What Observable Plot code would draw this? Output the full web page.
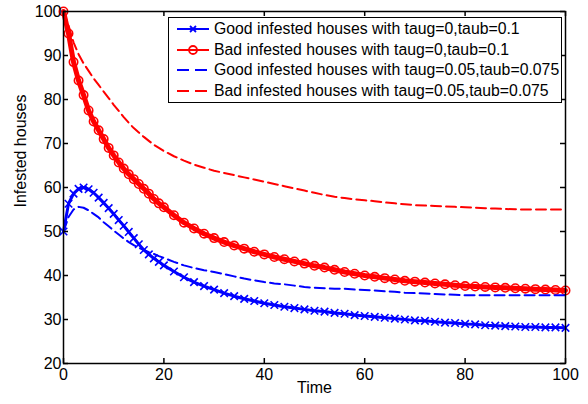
<!DOCTYPE html>
<html>
<head>
<meta charset="utf-8">
<script src="https://cdn.jsdelivr.net/npm/d3@7"></script>
<script src="https://cdn.jsdelivr.net/npm/@observablehq/plot@0.6"></script>
<style>
  body { margin: 0; background: #fff; }
  #wrap { position: relative; width: 588px; height: 404px; font-family: "Liberation Sans", Arial, sans-serif; }
  #legend { position: absolute; left: 168px; top: 17px; width: 394px; height: 86px; box-sizing: border-box;
            border: 1.5px solid #000; background: #fff; font-size: 15.8px; color: #000; }
  .row { position: absolute; left: 0; height: 20px; display: flex; align-items: center; white-space: nowrap; }
  .row svg { display: block; margin-left: 7px; margin-right: 4px; }
</style>
</head>
<body>
<div id="wrap"></div>
<script>
const time = [0,1,2,3,4,5,6,7,8,9,10,11,12,13,14,15,16,17,18,19,20,
  22,24,26,28,30,32,34,36,38,40,42,44,46,48,50,52,54,56,58,60,
  62,64,66,68,70,72,74,76,78,80,82,84,86,88,90,92,94,96,98,100];

// Good infested houses, taug=0, taub=0.1
const goodA = [50,56.3,58.6,59.7,60,59.6,58.8,57.7,56.5,55.3,54,52.6,51.3,49.9,48.5,47.1,45.8,44.8,43.9,43.1,42.3,
  40.9,39.6,38.5,37.6,36.8,36.0,35.3,34.7,34.2,33.7,
  33.3,32.9,32.6,32.3,32.0,31.8,31.5,31.3,31.0,30.8,
  30.6,30.4,30.2,30.0,29.8,29.7,29.5,29.3,29.2,29.0,
  28.9,28.7,28.6,28.5,28.4,28.3,28.3,28.2,28.2,28.1];

// Bad infested houses, taug=0, taub=0.1
const badA = [100,95,88.5,84.3,81,77.5,75,73,71,69,67.3,65.7,64.3,63,61.9,60.8,59.7,58.6,57.4,56.4,55.5,
  53.7,52.0,50.7,49.5,48.5,47.6,46.8,46.1,45.4,44.8,
  44.2,43.7,43.2,42.7,42.2,41.8,41.3,40.8,40.4,40.0,
  39.7,39.4,39.1,38.8,38.6,38.4,38.2,38.0,37.8,37.6,
  37.5,37.4,37.3,37.2,37.1,37.0,36.9,36.8,36.7,36.6];

// Good infested houses, taug=0.05, taub=0.075
const goodB = [50,53.3,55,55.6,55.4,54.8,54,53.2,52.1,51.2,50.2,49.3,48.4,47.6,46.9,46.3,45.8,45.3,44.9,44.4,44.0,
  43.1,42.3,41.7,41.2,40.8,40.3,39.8,39.3,38.9,38.5,
  38.2,38.0,37.7,37.4,37.2,37.1,37.0,37.0,36.8,36.7,
  36.6,36.4,36.3,36.1,36.0,35.9,35.8,35.7,35.6,35.5,
  35.5,35.5,35.5,35.5,35.5,35.5,35.5,35.5,35.5,35.5];

// Bad infested houses, taug=0.05, taub=0.075
const badB = [100,96.8,93,90.3,88.2,86.5,84.8,83.3,81.8,80.3,78.8,77.4,76,74.7,73.5,72.5,71.5,70.6,69.7,69,68.3,
  67.1,66.1,65.2,64.5,63.8,63.3,62.8,62.3,61.8,61.3,
  60.8,60.3,59.8,59.3,58.8,58.3,57.9,57.6,57.3,57.1,
  56.9,56.6,56.4,56.2,56.0,55.9,55.8,55.7,55.6,55.5,
  55.4,55.3,55.2,55.1,55.05,55.0,55.0,55.0,55.0,55.0];

const legendLabels = [
  "Good infested houses with taug=0,taub=0.1",
  "Bad infested houses with taug=0,taub=0.1",
  "Good infested houses with taug=0.05,taub=0.075",
  "Bad infested houses with taug=0.05,taub=0.075"
];
const xTicks = [0,20,40,60,80,100];
const yTicks = [20,30,40,50,60,70,80,90,100];
const xLabel = "Time";
const yLabel = "Infested houses";

const BLUE = "#0000ff", RED = "#ff0000";
const rows = vals => time.map((t, i) => ({t, v: vals[i]}));

const mL = 63, mR = 23, mT = 11, mB = 41, W = 588, H = 404;
const pw = W - mL - mR, ph = H - mT - mB;

const chart = Plot.plot({
  width: W, height: H,
  marginLeft: mL, marginRight: mR, marginTop: mT, marginBottom: mB,
  x: {domain: [0, 100]},
  y: {domain: [20, 100]},
  style: {fontFamily: '"Liberation Sans", Arial, sans-serif', fontSize: "16px", color: "#000", background: "#fff"},
  marks: [
    Plot.line(rows(goodA), {x: "t", y: "v", stroke: BLUE, strokeWidth: 3}),
    Plot.dot(rows(goodA), {x: "t", y: "v", symbol: "times", r: 3.5, stroke: BLUE, strokeWidth: 1.6}),
    Plot.line(rows(badA), {x: "t", y: "v", stroke: RED, strokeWidth: 5}),
    Plot.dot(rows(badA), {x: "t", y: "v", r: 4.2, stroke: RED, strokeWidth: 1.6, fill: "none"}),
    Plot.line(rows(goodB), {x: "t", y: "v", stroke: BLUE, strokeWidth: 2, strokeDasharray: "10,5"}),
    Plot.line(rows(badB), {x: "t", y: "v", stroke: RED, strokeWidth: 2, strokeDasharray: "10,5"}),
    Plot.frame({stroke: "#000", strokeWidth: 1.5}),
    Plot.tickX(xTicks, {x: d => d, insetTop: ph - 5, stroke: "#000", strokeWidth: 1.5}),
    Plot.tickX(xTicks, {x: d => d, insetBottom: ph - 5, stroke: "#000", strokeWidth: 1.5}),
    Plot.tickY(yTicks, {y: d => d, insetRight: pw - 5, stroke: "#000", strokeWidth: 1.5}),
    Plot.tickY(yTicks, {y: d => d, insetLeft: pw - 5, stroke: "#000", strokeWidth: 1.5}),
    Plot.axisX(xTicks, {tickSize: 0, tickPadding: 5, label: null, fontSize: 16}),
    Plot.axisY(yTicks, {tickSize: 0, tickPadding: 2, label: null, fontSize: 16}),
    Plot.text([xLabel], {frameAnchor: "bottom", dy: 29, fontSize: 16, fill: "#000"}),
    Plot.text([yLabel], {frameAnchor: "left", dx: -43, dy: 20, rotate: -90, fontSize: 16, fill: "#000"})
  ]
});

const wrap = document.getElementById("wrap");
wrap.appendChild(chart);

// Legend overlay
const legend = document.createElement("div");
legend.id = "legend";
const rowCenters = [12.7, 33.7, 53.7, 74.3];
const samples = [
  `<line x1="1" y1="10" x2="33" y2="10" stroke="${BLUE}" stroke-width="2"/><path d="M14 7L20 13M20 7L14 13" stroke="${BLUE}" stroke-width="1.8"/>`,
  `<line x1="1" y1="10" x2="33" y2="10" stroke="${RED}" stroke-width="2"/><circle cx="17" cy="10" r="4" fill="none" stroke="${RED}" stroke-width="1.8"/>`,
  `<line x1="1" y1="10" x2="33" y2="10" stroke="${BLUE}" stroke-width="2" stroke-dasharray="12,6"/>`,
  `<line x1="1" y1="10" x2="33" y2="10" stroke="${RED}" stroke-width="2" stroke-dasharray="12,6"/>`
];
legendLabels.forEach((lab, i) => {
  const r = document.createElement("div");
  r.className = "row";
  r.style.top = (rowCenters[i] - 10 - 1.5) + "px";
  r.innerHTML = `<svg width="34" height="20">${samples[i]}</svg><span>${lab}</span>`;
  legend.appendChild(r);
});
wrap.appendChild(legend);
</script>
</body>
</html>
